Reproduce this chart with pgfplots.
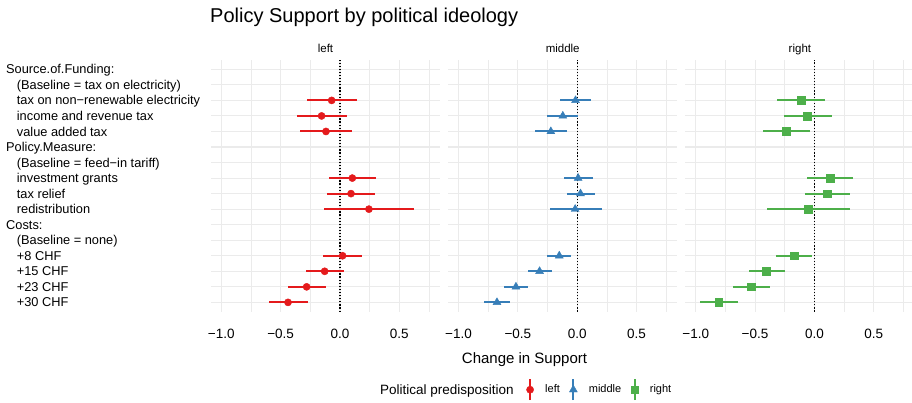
\documentclass[border=0pt]{standalone}
\usepackage{fontspec}
\setmainfont{Liberation Sans}
\usepackage{pgfplots}
\usepackage{pgfplotstable}
\pgfplotsset{compat=1.18}
\definecolor{cred}{HTML}{E41A1C}
\definecolor{cblue}{HTML}{377EB8}
\definecolor{cgreen}{HTML}{4DAF4A}
\definecolor{gridc}{HTML}{EBEBEB}

% y = 17 - row (row 1 = top)
\pgfplotstableread{
y x lo hi
14 -0.070 -0.281 0.140
13 -0.155 -0.365 0.056
12 -0.118 -0.337 0.101
9 0.104 -0.093 0.301
8 0.093 -0.107 0.292
7 0.244 -0.132 0.621
4 0.022 -0.140 0.185
3 -0.129 -0.289 0.037
2 -0.281 -0.441 -0.118
1 -0.438 -0.598 -0.272
}\tleft
\pgfplotstableread{
y x lo hi
14 -0.014 -0.143 0.118
13 -0.121 -0.255 0.011
12 -0.222 -0.354 -0.087
9 0.008 -0.115 0.132
8 0.028 -0.087 0.149
7 -0.017 -0.233 0.207
4 -0.151 -0.255 -0.050
3 -0.317 -0.418 -0.213
2 -0.516 -0.619 -0.415
1 -0.676 -0.782 -0.569
}\tmiddle
\pgfplotstableread{
y x lo hi
14 -0.111 -0.319 0.093
13 -0.061 -0.257 0.150
12 -0.237 -0.437 -0.038
9 0.135 -0.061 0.329
8 0.107 -0.083 0.296
7 -0.052 -0.403 0.296
4 -0.170 -0.322 -0.016
3 -0.406 -0.554 -0.246
2 -0.532 -0.689 -0.378
1 -0.807 -0.966 -0.646
}\tright

\pgfplotsset{
  facet/.style={
    scale only axis, width=229bp, height=251.7bp, anchor=south west,
    xmin=-1.087, xmax=0.843, ymin=0.4, ymax=16.6,
    axis line style={draw=none}, major tick length=0pt, minor tick length=0pt,
    tick style={draw=none},
    xtick={-1,-0.5,0,0.5}, xticklabels={−1.0,−0.5,0.0,0.5},
    minor xtick={-0.75,-0.25,0.25,0.75},
    ytick={1,...,16},
    xmajorgrids, xminorgrids, ymajorgrids,
    major grid style={draw=gridc, line width=1.07bp},
    minor grid style={draw=gridc, line width=0.55bp},
    xticklabel style={font=\fontsize{13.5bp}{16bp}\selectfont, anchor=base, inner sep=0pt, yshift=-26.6bp},
    title style={font=\fontsize{11.5bp}{13bp}\selectfont, at={(0.5,1)}, anchor=base, inner sep=0pt, yshift=1.7bp},
    clip=false,
  },
  zeroline/.style={black, line width=1.2bp, dash pattern=on 1.2bp off 1.9bp},
  pr/.style={only marks, mark options={solid, line width=0.4bp},
    error bars/x dir=both, error bars/x explicit, error bars/error mark=none,
    error bars/error bar style={line width=2bp, solid}},
  pointrange legend/.style={legend image code/.code={
    \draw[mark=none, line width=2bp] (0bp,-10.35bp) -- (0bp,10.35bp);
    \draw plot coordinates {(0bp,0bp)};
  }},
}

\begin{document}
\begin{tikzpicture}
\path[use as bounding box] (0,0) rectangle (912bp,403bp);

\node[anchor=base west, font=\fontsize{20bp}{23bp}\selectfont, inner sep=0pt] at (210bp,380.5bp) {Policy Support by political ideology};
\node[anchor=base, font=\fontsize{15bp}{18bp}\selectfont, inner sep=0pt] at (524.5bp,39.3bp) {Change in Support};
\node[anchor=base west, font=\fontsize{13.5bp}{16bp}\selectfont, inner sep=0pt] at (380bp,8.3bp) {Political predisposition};

\begin{axis}[facet, at={(211bp,91.3bp)}, title={left},
  yticklabels={{\hspace*{10.7bp}+30 CHF},{\hspace*{10.7bp}+23 CHF},{\hspace*{10.7bp}+15 CHF},{\hspace*{10.7bp}+8 CHF},{\hspace*{10.7bp}(Baseline = none)},{Costs:},{\hspace*{10.7bp}redistribution},{\hspace*{10.7bp}tax relief},{\hspace*{10.7bp}investment grants},{\hspace*{10.7bp}(Baseline = feed−in tariff)},{Policy.Measure:},{\hspace*{10.7bp}value added tax},{\hspace*{10.7bp}income and revenue tax},{\hspace*{10.7bp}tax on non−renewable electricity},{\hspace*{10.7bp}(Baseline = tax on electricity)},{Source.of.Funding:}},
  yticklabel style={font=\fontsize{12.8bp}{15bp}\selectfont, anchor=base west, inner sep=0pt, xshift=-205bp, yshift=-4.6bp},
  legend style={at={(axis description cs:1.3777,-0.3099)}, anchor=west, draw=none, fill=none,
    inner sep=0pt, outer sep=0pt, legend columns=-1, legend cell align=left,
    font=\fontsize{11bp}{13bp}\selectfont, nodes={inner sep=0pt},
    /tikz/every odd column/.append style={column sep=11.5bp},
    /tikz/every even column/.append style={column sep=9.5bp}},
]
\addlegendimage{cred, mark=*, mark size=3.6bp, pointrange legend}
\addlegendentry{left}
\addlegendimage{cblue, mark=triangle*, mark size=4.6bp, pointrange legend}
\addlegendentry{middle}
\addlegendimage{cgreen, mark=square*, mark size=3.8bp, pointrange legend}
\addlegendentry{right}
\addplot[forget plot, zeroline] coordinates {(0,0.4) (0,16.6)};
\addplot[forget plot, cred, mark=*, mark size=3.6bp, pr] table[x=x, y=y, x error plus expr=\thisrow{hi}-\thisrow{x}, x error minus expr=\thisrow{x}-\thisrow{lo}] {\tleft};
\end{axis}

\begin{axis}[facet, at={(448.2bp,91.3bp)}, title={middle}, yticklabels={}]
\addplot[zeroline] coordinates {(0,0.4) (0,16.6)};
\addplot[cblue, mark=triangle*, mark size=4.6bp, pr] table[x=x, y=y, x error plus expr=\thisrow{hi}-\thisrow{x}, x error minus expr=\thisrow{x}-\thisrow{lo}] {\tmiddle};
\end{axis}

\begin{axis}[facet, at={(685.4bp,91.3bp)}, title={right}, yticklabels={}]
\addplot[zeroline] coordinates {(0,0.4) (0,16.6)};
\addplot[cgreen, mark=square*, mark size=3.8bp, pr] table[x=x, y=y, x error plus expr=\thisrow{hi}-\thisrow{x}, x error minus expr=\thisrow{x}-\thisrow{lo}] {\tright};
\end{axis}
\end{tikzpicture}
\end{document}
